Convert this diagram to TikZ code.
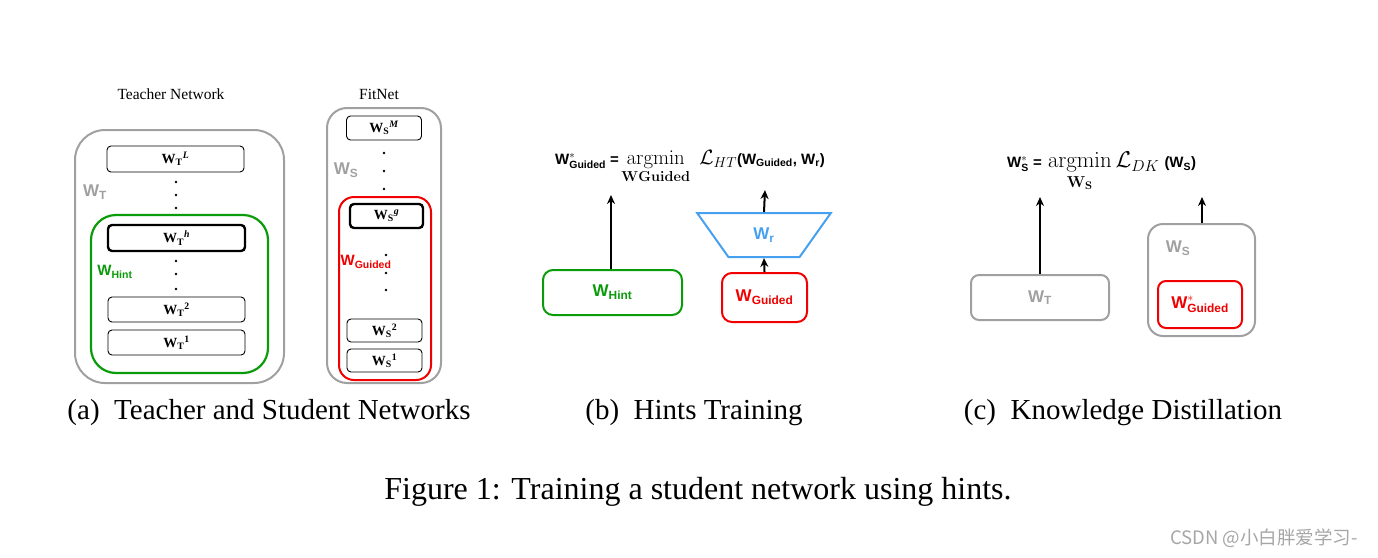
\documentclass[tikz,border=0pt]{standalone}
\usepackage{amsmath}
\usepackage{graphicx}
\usepackage[no-math]{fontspec}
\setmainfont{Liberation Serif}
\newfontfamily\arial{Liberation Sans}
\newfontfamily\cjk{Noto Sans CJK SC}
\usetikzlibrary{arrows.meta,shapes.geometric}
\definecolor{netgray}{RGB}{160,160,160}
\definecolor{hintgreen}{RGB}{10,155,10}
\definecolor{guidedred}{RGB}{240,0,0}
\definecolor{regblue}{RGB}{70,160,240}
\newcommand{\fs}[1]{\fontsize{#1}{#1}\selectfont}

\begin{document}
\begin{tikzpicture}[x=1pt,y=-1pt,>={Stealth[length=9pt,width=8pt]},
  layer/.style={draw,rounded corners=4pt,line width=0.9pt,minimum width=137pt,
    minimum height=26pt,inner sep=0pt,font=\fs{14}\bfseries},
  hintlayer/.style={layer,line width=2.4pt},
  slayer/.style={layer,minimum width=75pt,minimum height=23pt},
  net/.style={draw=netgray,line width=2pt,inner sep=0pt},
  hintnet/.style={draw=hintgreen,line width=2.2pt,inner sep=0pt},
  guidednet/.style={draw=guidedred,line width=2pt,inner sep=0pt},
  tag/.style={inner sep=0pt,font=\arial\bfseries},
  up/.style={->,line width=2pt},
  caption/.style={inner sep=0pt,font=\fs{29}}]

  \useasboundingbox (0,0) rectangle (1378,557);

  % (a) teacher network
  \node[inner sep=0pt,font=\fs{15.5}] (teacherTitle) at (171,94) {Teacher Network};
  \node[net,rounded corners=30pt,minimum width=209pt,minimum height=253pt] (teacher) at (179.5,256.5) {};
  \node[hintnet,rounded corners=25pt,minimum width=177pt,minimum height=158pt] (hint) at (179.5,294) {};
  \node[layer] (TL) at (175.5,159) {$\text{W}_{\text{T}}{}^{\textit{L}}$};
  \node[hintlayer] (Th) at (176.5,238) {$\text{W}_{\text{T}}{}^{\textit{h}}$};
  \node[layer,minimum height=25pt] (T2) at (176.5,309.5) {$\text{W}_{\text{T}}{}^{\text{2}}$};
  \node[layer,minimum height=25pt] (T1) at (176.5,342.5) {$\text{W}_{\text{T}}{}^{\text{1}}$};
  \foreach \y in {182,195,208,261,274,289}
    \fill (176,\y) circle (1.4pt);
  \node[tag,font=\arial\bfseries\fs{17},text=netgray] (WT) at (95,192) {$\text{W}_{\text{T}}$};
  \node[tag,font=\arial\bfseries\fs{15},text=hintgreen] (WHint) at (115,272) {$\text{W}_{\text{Hint}}$};

  % (a) fitnet
  \node[inner sep=0pt,font=\fs{15.5}] (fitTitle) at (379,94) {FitNet};
  \node[net,rounded corners=20pt,minimum width=114pt,minimum height=275pt] (fitnet) at (384,245.5) {};
  \node[guidednet,rounded corners=15pt,minimum width=92pt,minimum height=183pt] (guided) at (385,288.5) {};
  \node[slayer,minimum height=24pt] (SM) at (384,128) {$\text{W}_{\text{S}}{}^{\textit{M}}$};
  \node[slayer,line width=2.4pt,minimum width=73pt,minimum height=24pt] (Sg) at (386.5,216) {$\text{W}_{\text{S}}{}^{\textit{g}}$};
  \node[slayer] (S2) at (384.5,330.5) {$\text{W}_{\text{S}}{}^{\text{2}}$};
  \node[slayer] (S1) at (384.5,360.5) {$\text{W}_{\text{S}}{}^{\text{1}}$};
  \foreach \y in {153,171,189}
    \fill (384,\y) circle (1.4pt);
  \foreach \y in {255,273,290}
    \fill (386,\y) circle (1.4pt);
  \node[tag,font=\arial\bfseries\fs{17},text=netgray] (WS) at (346,170) {$\text{W}_{\text{S}}$};
  \node[tag,font=\arial\bfseries\fs{15},text=guidedred] (WGuided) at (366,262) {$\text{W}_{\text{Guided}}$};

  % (b) hints training
  \node[draw=hintgreen,line width=2pt,rounded corners=10pt,minimum width=139pt,minimum height=45pt,
    tag,font=\arial\bfseries\fs{17},text=hintgreen] (hintBox) at (612.5,292.5) {$\text{W}_{\text{Hint}}$};
  \node[draw=guidedred,line width=2pt,rounded corners=10pt,minimum width=85pt,minimum height=49pt,
    tag,font=\arial\bfseries\fs{17},text=guidedred] (guidedBox) at (764.5,297.5) {$\text{W}_{\text{Guided}}$};
  \node[trapezium,shape border rotate=180,trapezium angle=57,trapezium stretches=true,
    draw=regblue,line width=2pt,minimum width=134pt,minimum height=44pt,
    tag,font=\arial\bfseries\fs{17},text=regblue] (regressor) at (764,235) {$\text{W}_{\text{r}}$};
  \node[inner sep=0pt,anchor=west] (lossHT) at (555,167)
    {{\arial\bfseries\fs{15}$\text{W}^{*}_{\text{Guided}}$ =}
     {\fs{20}$\mathop{\mathrm{argmin}}\limits_{\mathbf{W}\mathbf{Guided}}\;\mathcal{L}_{HT}$}%
     {\arial\bfseries\fs{15}(W$_{\text{Guided}}$, W$_{\text{r}}$)}};
  \coordinate (hintEnd) at (611,195);
  \coordinate (regEnd) at (765,190);
  \draw[up] (hintBox.north -| hintEnd) -- (hintEnd);
  \draw[up] (guidedBox.north) -- (regressor.south);
  \draw[up] (regressor.north) -- (regEnd);

  % (c) knowledge distillation
  \node[draw=netgray,line width=2pt,rounded corners=8pt,minimum width=138pt,minimum height=45pt,
    tag,font=\arial\bfseries\fs{17},text=netgray] (teacherBox) at (1040,297.5) {$\text{W}_{\text{T}}$};
  \node[net,rounded corners=15pt,minimum width=107pt,minimum height=112pt] (studentBox) at (1201.5,280) {};
  \node[draw=guidedred,line width=2pt,rounded corners=8pt,minimum width=84pt,minimum height=47pt,
    tag,font=\arial\bfseries\fs{17},text=guidedred] (guidedStar) at (1200,304.5) {$\text{W}^{*}_{\text{Guided}}$};
  \node[tag,font=\arial\bfseries\fs{17},text=netgray] (WS2) at (1178,248) {$\text{W}_{\text{S}}$};
  \node[inner sep=0pt,anchor=west] (lossDK) at (1007,172)
    {{\arial\bfseries\fs{15}$\text{W}^{*}_{\text{S}}$ =}\hspace{6pt}%
     \scalebox{1.1}{\fs{20}$\mathop{\mathrm{argmin}}\limits_{\mathbf{W_S}}\mathcal{L}_{DK}$}\hspace{5pt}%
     {\arial\bfseries\fs{15}(W$_{\text{S}}$)}};
  \coordinate (teacherEnd) at (1040,197);
  \coordinate (studentEnd) at (1202,197);
  \draw[up] (teacherBox.north) -- (teacherEnd);
  \draw[up] (studentBox.north -| studentEnd) -- (studentEnd);

  % captions
  \node[caption] (capA) at (269,413) {(a)\ \ Teacher and Student Networks};
  \node[caption] (capB) at (694,413) {(b)\ \ Hints Training};
  \node[caption] (capC) at (1123,413) {(c)\ \ Knowledge Distillation};
  \node[caption,font=\fs{32}] (figCap) at (698,492) {Figure 1: Training a student network using hints.};
  \node[inner sep=0pt,font=\cjk\fs{18.5},text=black!35] (mark) at (1264,538) {CSDN @小白胖爱学习-};
\end{tikzpicture}
\end{document}
